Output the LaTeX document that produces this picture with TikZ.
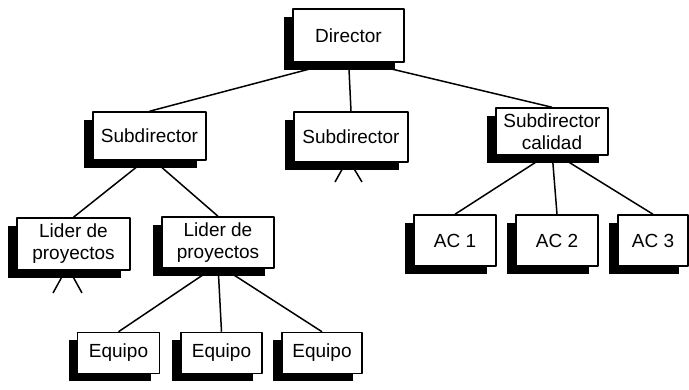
\documentclass[tikz,border=0pt]{standalone}
\usepackage{fontspec}
\setmainfont{Liberation Sans}
\usetikzlibrary{shadows}
\pgfdeclarelayer{bg}
\pgfsetlayers{bg,main}

\begin{document}
\begin{tikzpicture}[line cap=round, line join=round, x=1pt, y=-1pt,
	puesto/.style={draw, fill=white, line width=1.5pt, inner sep=0pt, align=center,
		font=\fontsize{19}{22}\selectfont,
		general shadow={fill=black, shadow xshift=-9pt, shadow yshift=-8pt}},
	ancho/.style={puesto, minimum width=113pt, minimum height=50pt},
	corto/.style={puesto, minimum width=82pt, minimum height=49pt},
	enlace/.style={line width=1.5pt}]
	\useasboundingbox (0,0) rectangle (689,390);
	\node [ancho, minimum width=111pt, minimum height=53pt] (dir) at (348.5,35.5) {Director};
	\node [ancho, minimum height=48pt] (sub1) at (149.5,136) {Subdirector};
	\node [ancho, minimum width=114pt] (sub2) at (351,137) {Subdirector};
	\node [ancho, minimum width=112pt, minimum height=47pt] (subcal) at (552,131.5) {Subdirector\\calidad};
	\node [ancho, minimum height=52pt] (lid1) at (73.5,244) {Lider de\\proyectos};
	\node [ancho, minimum width=112pt, minimum height=51pt] (lid2) at (218,242.5) {Lider de\\proyectos};
	\node [corto, minimum height=51pt] (ac1) at (455,240.5) {AC 1};
	\node [corto, minimum height=51pt] (ac2) at (557,240.5) {AC 2};
	\node [corto, minimum width=70pt, minimum height=51pt] (ac3) at (653,240.5) {AC 3};
	\node [corto, minimum height=41pt] (eq1) at (118.5,353) {Equipo};
	\node [corto, minimum width=81pt, minimum height=41pt] (eq2) at (221.5,353) {Equipo};
	\node [corto, minimum width=80pt, minimum height=41pt] (eq3) at (322,353) {Equipo};
	% ramas sin dibujar
	\coordinate (s2a) at (335,182);
	\coordinate (s2b) at (362,182);
	\coordinate (l1a) at (53,293);
	\coordinate (l1b) at (82,293);
	\begin{pgfonlayer}{bg}
		\draw [enlace] ([yshift=4pt]dir.south) -- (sub1.north);
		\draw [enlace] ([yshift=4pt]dir.south) -- (sub2.north);
		\draw [enlace] ([yshift=4pt]dir.south) -- (subcal.north);
		\draw [enlace] ([yshift=4pt]sub1.south) -- (lid1.north);
		\draw [enlace] ([yshift=4pt]sub1.south) -- (lid2.north);
		\draw [enlace] ([yshift=4pt]lid2.south) -- (eq1.north);
		\draw [enlace] ([yshift=4pt]lid2.south) -- (eq2.north);
		\draw [enlace] ([yshift=4pt]lid2.south) -- (eq3.north);
		\draw [enlace] ([yshift=4pt]subcal.south) -- (ac1.north);
		\draw [enlace] ([yshift=4pt]subcal.south) -- (ac2.north);
		\draw [enlace] ([yshift=4pt]subcal.south) -- (ac3.north);
		\draw [enlace] (s2a) -- ([xshift=-3pt,yshift=4pt]sub2.south);
		\draw [enlace] (s2b) -- ([xshift=-3pt,yshift=4pt]sub2.south);
		\draw [enlace] (l1a) -- ([xshift=-6pt,yshift=4pt]lid1.south);
		\draw [enlace] (l1b) -- ([xshift=-6pt,yshift=4pt]lid1.south);
	\end{pgfonlayer}
\end{tikzpicture}
\end{document}
